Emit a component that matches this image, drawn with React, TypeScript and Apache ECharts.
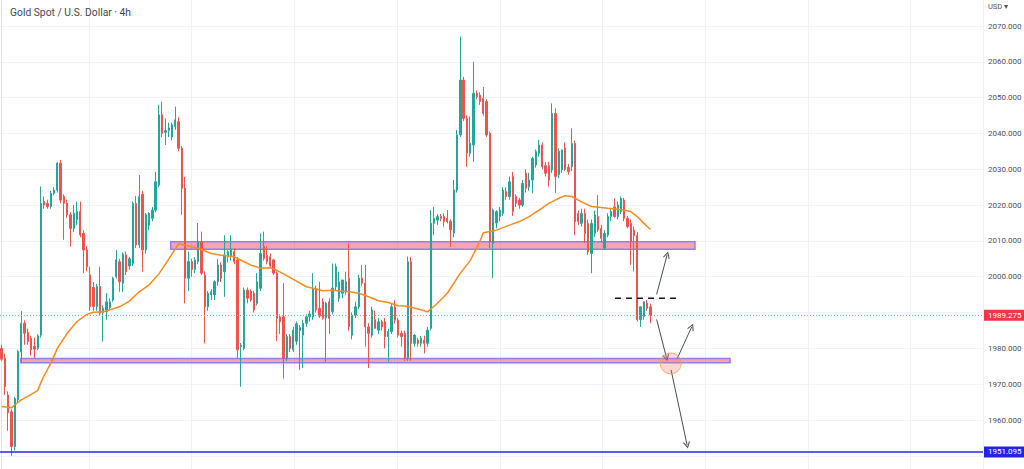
import React, { useEffect, useRef } from "react";
import * as echarts from "echarts";

// [open, high, low, close] per 4h candle
const candles: [number, number, number, number][] = [
  [1980, 1981, 1976.5, 1977], [1977.3, 1978.5, 1967, 1969.3], [1967, 1968, 1957, 1962], [1962.3, 1963, 1950, 1952.6],
  [1952.6, 1966.5, 1951.5, 1966], [1965.6, 1979.6, 1965, 1979.1], [1979, 1990.4, 1976, 1987], [1987, 1987.8, 1981, 1984.2],
  [1984.5, 1985.5, 1981, 1981.9], [1982.8, 1983.5, 1978, 1979.6], [1980.5, 1983, 1977.3, 1979.8], [1980, 1984, 1979.5, 1983.5],
  [1983.7, 2025.2, 1983, 2020.5], [2021, 2022.4, 2019, 2020], [2020.5, 2021.5, 2019, 2019.6], [2019.6, 2024, 2019, 2023.3],
  [2023.3, 2025, 2022.8, 2024.2], [2024.2, 2032, 2023.5, 2031.7], [2031.7, 2032.6, 2020.5, 2021.4], [2022.4, 2023, 2010.3, 2020.5],
  [2020.5, 2021.5, 2016.5, 2017.3], [2017.3, 2018, 2008.4, 2013.5], [2013.5, 2020, 2012.5, 2017.7], [2016, 2021, 2014.5, 2018.2],
  [2018.2, 2021, 2011, 2011.7], [2012.1, 2013, 2001, 2007.5], [2007.5, 2008.5, 2001.5, 2002.8], [2000.5, 2002.8, 1990.5, 1991.7],
  [1997, 1998.5, 1990.5, 1991.7], [1991.7, 1998, 1990.5, 1997.3], [1997.3, 2002.8, 1989, 1989.8], [1990, 1992, 1981.9, 1991.2],
  [1990.3, 1995.4, 1988, 1993], [1991.4, 1994, 1990.5, 1993], [1993.5, 2000, 1993, 1999.6], [2000, 2007.5, 1999.5, 2004.7],
  [2004.2, 2005, 1995.8, 1998.6], [1998.2, 2006.8, 1995.8, 2006.3], [2006.1, 2007, 2000.5, 2001.4], [2003, 2005.5, 2002, 2005],
  [2003.7, 2021, 2003, 2020.5], [2020.5, 2022.5, 2008, 2008.9], [2008.9, 2028.4, 2008, 2022.4], [2023, 2024, 2001.4, 2007.5],
  [2007.5, 2017.8, 2006.5, 2017.3], [2014.4, 2018, 2013, 2017.7], [2016.3, 2019.5, 2015.5, 2018.6], [2018.6, 2029.3, 2018, 2026.5],
  [2025.6, 2048, 2025, 2045.2], [2045.2, 2048.9, 2039, 2040], [2040.3, 2044.2, 2036.8, 2040.8], [2040.8, 2043, 2039, 2041.5],
  [2039, 2043, 2038, 2042.4], [2041.9, 2047.5, 2041, 2043.8], [2043.3, 2044.5, 2035, 2035.9], [2035.9, 2036.5, 2017.3, 2024.7],
  [2024.7, 2027.9, 1992.6, 1999.6], [1999.6, 2007, 1996, 2004.2], [2004.2, 2005, 2000, 2002], [2002, 2005.5, 2001, 2004.7],
  [2004.2, 2015, 2003.5, 2009.8], [2009.8, 2012.6, 2000.5, 2001], [2000.5, 2001.5, 1981.4, 1991.6], [1991.6, 1996, 1990.5, 1995.4],
  [1995, 1996.5, 1993.5, 1995.8], [1994.9, 1999, 1993.5, 1998.6], [1998.6, 2005, 1997.5, 2003.3], [2003.3, 2004, 1998.5, 1999.6],
  [2001.4, 2011.6, 1994.4, 2006.1], [2005.6, 2007.5, 2004, 2007], [2005.6, 2011.6, 2004.5, 2007.5], [2007, 2008, 2003.5, 2004.2],
  [2004.7, 2005.5, 1977.2, 1979.6], [1980.5, 1981.5, 1969.3, 1980.9], [1980, 1997, 1979.5, 1996.3], [1996.3, 1997, 1992.6, 1994],
  [1996, 1996.5, 1993, 1993.5], [1995.4, 1996, 1990, 1990.7], [1992.6, 2001, 1992, 1998.6], [1996.8, 2012.1, 1996, 2006.5],
  [2008.4, 2012.6, 2004.5, 2005.1], [2006, 2008.5, 2003.5, 2004.2], [2005.6, 2006.5, 2002.5, 2003], [2004.7, 2005, 2000.5, 2001],
  [2001, 2001.5, 1982, 1988.4], [1988.8, 1989.5, 1984, 1987.5], [1988.8, 1998.2, 1971.6, 1977.2], [1977.2, 1984, 1976.5, 1983.3],
  [1983.3, 1984, 1979, 1980], [1979.6, 1986, 1979, 1985.1], [1982, 1987.5, 1981, 1986.9], [1985, 1986.5, 1974, 1985.8],
  [1983.7, 1988, 1974.5, 1987], [1987, 1989.5, 1986, 1988.8], [1988.8, 1990.5, 1987.5, 1989.6], [1988.8, 2001, 1988, 1996.8],
  [1996.8, 1997.5, 1990, 1990.7], [1991.2, 1998.6, 1988.5, 1989], [1993, 1994, 1988, 1988.4], [1988.5, 1993, 1976.3, 1992.6],
  [1993, 1994, 1984, 1988.4], [1990.3, 2003.7, 1989.5, 1996.8], [1997.2, 2003.7, 1996, 2002.8], [1994, 2001.4, 1993, 1998.6],
  [1995.4, 1999, 1994, 1999.1], [1995.8, 2001.4, 1995, 1998.6], [1999.6, 2009.3, 1985, 1986], [1983.7, 1990, 1982.5, 1989.3],
  [1989.3, 1993, 1988.5, 1991.6], [1991.6, 2000.5, 1991, 1999.6], [1999.6, 2003.3, 1997.5, 1998.2], [1998.2, 2003.3, 1980.5, 1986],
  [1986, 1987, 1974.5, 1984.2], [1983.7, 1991.6, 1983, 1990.7], [1988, 1990.5, 1985.5, 1985.6], [1985.1, 1988.5, 1984, 1987.4],
  [1987.4, 1988, 1985, 1986], [1987.4, 1988.5, 1980, 1983.3], [1983.3, 1985.5, 1976.3, 1984.7], [1984.7, 1992.6, 1984, 1991.6],
  [1991.6, 1993.5, 1987, 1987.9], [1987.9, 1988.5, 1983, 1983.7], [1984.2, 1985, 1980.5, 1983.3], [1984.2, 1985, 1976.5, 1977.2],
  [1977.2, 2005.6, 1976.5, 2004.2], [2004.2, 2005.6, 1976.5, 1981.4], [1981.4, 1984, 1980.5, 1983.7], [1982.3, 1983, 1980.5, 1981.4],
  [1981.4, 1983.5, 1980.5, 1982.8], [1982.3, 1983.5, 1978.6, 1981.4], [1981.4, 1986, 1980.5, 1985.1], [1985.6, 2018.6, 1985, 2014.9],
  [2014.9, 2019.5, 2011.6, 2016.3], [2015.8, 2017.5, 2014.5, 2016.8], [2016.8, 2017.5, 2015.5, 2016.3], [2016.8, 2017.7, 2014, 2015.4],
  [2016.3, 2018.6, 2014.9, 2015.4], [2015.4, 2016, 2008.4, 2013.1], [2012.2, 2027, 2011, 2024.2], [2024.2, 2041, 2023.5, 2039.6],
  [2039.6, 2067, 2039, 2054.9], [2054.9, 2055.8, 2043.5, 2044.2], [2044.2, 2045, 2030.7, 2034.5], [2034.5, 2044.7, 2033.5, 2037.3],
  [2036.8, 2060, 2032.1, 2051.2], [2051.2, 2052, 2049.5, 2050.3], [2050.7, 2051.5, 2048, 2048.9], [2049.8, 2053, 2045, 2045.6],
  [2048.9, 2049.5, 2039, 2039.6], [2040, 2040.5, 2008, 2009.8], [2009.3, 2019, 1999.6, 2018.6], [2015, 2018.6, 2013.5, 2018.2],
  [2016.8, 2019.5, 2015.5, 2018.6], [2017.7, 2025, 2017, 2024.2], [2023.8, 2025, 2021.5, 2022.4], [2022.4, 2028, 2021.5, 2026.5],
  [2028, 2029.3, 2017, 2018.2], [2022.4, 2023, 2019.5, 2020.5], [2021.4, 2022, 2019, 2020], [2020, 2027, 2019.5, 2026],
  [2028.9, 2030, 2023.5, 2024.7], [2025.1, 2029, 2024, 2027], [2027, 2033.5, 2023.3, 2033], [2031.2, 2035.5, 2030.5, 2034.9],
  [2034.5, 2038.2, 2033.5, 2036.8], [2036.8, 2037.5, 2030, 2030.7], [2031, 2032, 2028, 2028.9], [2031, 2032, 2025.2, 2027],
  [2029.8, 2048.4, 2029, 2045.6], [2045.6, 2047, 2023.3, 2028], [2028.5, 2035.8, 2027.5, 2035], [2029.8, 2035.5, 2029, 2035.4],
  [2036, 2037.5, 2029.5, 2030], [2030.5, 2031.5, 2028.5, 2029.3], [2030.7, 2041.4, 2029.5, 2037.2], [2037.2, 2038, 2011.6, 2015.4],
  [2017.7, 2018.5, 2014.5, 2015.4], [2014.9, 2019, 2014, 2017.7], [2017.7, 2019, 2009.3, 2012.1], [2014.9, 2016, 2006.1, 2007],
  [2006.5, 2016, 2001, 2014.9], [2012.1, 2018.5, 2011, 2017.2], [2016.8, 2022.8, 2012.5, 2013.1], [2013.5, 2014.5, 2009.5, 2010.7],
  [2008, 2013, 2007.5, 2012.1], [2011.6, 2017.7, 2011, 2016.8], [2016.8, 2019, 2015.5, 2018.2], [2019.5, 2021.9, 2016.5, 2016.8],
  [2016.8, 2021, 2016, 2020], [2018.2, 2022.4, 2017.5, 2021.9], [2021.4, 2022, 2015.5, 2016.3], [2016.3, 2017, 2013.5, 2014],
  [2014.9, 2016, 2003.3, 2009.8], [2013, 2014, 2001.5, 2011.5], [2011.5, 2012.5, 1987.5, 1988], [1988, 1991.7, 1986, 1991.6],
  [1988.9, 1993, 1988, 1993], [1992.6, 1993.5, 1990.5, 1991.2], [1991.6, 1992.5, 1987, 1989.3],
];

// moving average: [candle index, price]
const maPoints: [number, number][] = [
  [0, 1963.8], [3, 1963.4], [4, 1964.2], [6, 1965.6], [8, 1966.6], [11, 1968.2], [12, 1970.5], [13, 1972.5], [15, 1975.8],
  [17, 1980], [20, 1984.2], [23, 1987.5], [26, 1989.5], [28, 1990.1], [31, 1990.2], [36, 1991.6], [39, 1993.2],
  [42, 1995.8], [45, 1997.7], [48, 2000.8], [51, 2004.9], [53, 2007.8], [54, 2009.2], [56, 2008.8], [58, 2008.4],
  [61, 2007.6], [64, 2006.5], [67, 2006], [71, 2005.6], [73, 2004.6], [76, 2003.3], [79, 2002.4], [82, 2002.5],
  [84, 2001.8], [87, 2000.3], [90, 1998.8], [93, 1997.2], [96, 1996.6], [98, 1996.1], [101, 1996.2], [103, 1996],
  [106, 1995.8], [109, 1995.4], [112, 1994.4], [115, 1993.3], [118, 1992.8], [121, 1991.9], [123, 1991.8],
  [125, 1991.5], [128, 1990.8], [130, 1990.2], [133, 1992.6], [136, 1995.4], [140, 2001], [143, 2004.5],
  [146, 2010], [147, 2012.3], [151, 2013], [155, 2014.4], [158, 2015.4], [161, 2016.8], [164, 2018.6],
  [167, 2020.5], [170, 2021.9], [172, 2022.6], [174, 2022.4], [177, 2020.9], [180, 2019.6], [185, 2019.1],
  [189, 2018.8], [192, 2018.2], [194, 2016.8], [196, 2014.9], [198, 2013.2],
];

// support / resistance zones: [from index, to index, low, high]
const zones: [number, number, number, number][] = [
  [51.6, 211.6, 2007.7, 2009.8],
  [5.8, 222.3, 1976.0, 1977.2],
];

// dashed level: [from index, to index, price]
const dashedLevel: [number, number, number] = [187.2, 207.0, 1994.0];

// arrows: [x1, y1, x2, y2] (index, price)
const arrows: [number, number, number, number][] = [
  [199.9, 1995.1, 203.1, 2006.1],
  [199.9, 1988.1, 202.9, 1977.4],
  [206.2, 1977.2, 210.6, 1986.0],
  [204.3, 1974.0, 209.2, 1953.0],
];

const circlePoint: [number, number] = [204.2, 1975.8];
const lastPrice = 1989.275;
const lowLine = 1951.095;

const SLOTS = 300;
const FONT = "Roboto";
const CHEVRON = "path://M5,0L10,9L8.7,9.7L5,2.8L1.3,9.7L0,9Z";

export default function App() {
  const ref = useRef<HTMLDivElement>(null);
  useEffect(() => {
    const chart = echarts.init(ref.current!, undefined, { renderer: "svg" });
    const cats = Array.from({ length: SLOTS }, (_, i) => String(i));
    const ohlc = candles.map(([o, h, l, c]) => [o, c, l, h]);
    const priceTags = [lastPrice, lowLine];
    chart.setOption({
      animation: false,
      backgroundColor: "#ffffff",
      textStyle: { fontFamily: FONT },
      title: {
        text: "Gold Spot / U.S. Dollar · 4h",
        left: 5,
        top: 2,
        textStyle: { fontSize: 10.3, fontWeight: "normal", color: "#434651", fontFamily: FONT },
      },
      graphic: [
        { type: "text", left: 988, top: 2, style: { text: "USD ▾", fontSize: 7.5, fill: "#50535e", fontFamily: FONT } },
      ],
      grid: [
        { left: 0, right: 41, top: -9.82, bottom: -22.66, outerBoundsMode: "none", containLabel: false },
        { left: -13.7, right: 41, top: 0, bottom: 0, outerBoundsMode: "none", containLabel: false },
      ],
      xAxis: [
        { type: "category", gridIndex: 0, data: cats, boundaryGap: true, show: false },
        { type: "value", gridIndex: 0, min: -0.5, max: SLOTS - 0.5, show: false },
        {
          type: "value", gridIndex: 1, min: 0, max: 9.705, interval: 1,
          axisLine: { show: false }, axisTick: { show: false }, axisLabel: { show: false },
          splitLine: { show: true, lineStyle: { color: "#eef1f7", width: 1 } },
        },
      ],
      yAxis: [
        {
          type: "value", gridIndex: 0, position: "right", min: 1940, max: 2080, interval: 10,
          axisLine: { show: true, lineStyle: { color: "#e0e3eb" } },
          axisTick: { show: false },
          splitLine: { show: true, lineStyle: { color: "#f0f3fa", width: 1 } },
          axisLabel: {
            margin: 5, fontSize: 8, color: "#4c4f59", fontFamily: FONT,
            showMinLabel: false, showMaxLabel: false,
            formatter: (v: number) => (priceTags.some((p) => Math.abs(p - v) < 3) ? "" : v.toFixed(3)),
          },
        },
        { type: "value", gridIndex: 1, min: 0, max: 1, show: false },
      ],
      series: [
        {
          type: "candlestick",
          xAxisIndex: 0, yAxisIndex: 0,
          data: ohlc,
          barWidth: 1.8,
          itemStyle: {
            color: "#26a69a", color0: "#ef5350",
            borderColor: "#26a69a", borderColor0: "#ef5350", borderWidth: 1,
          },
          markLine: {
            silent: true,
            symbol: ["none", "none"],
            data: [
              {
                yAxis: lastPrice,
                lineStyle: { color: "#f58a94", type: [1, 2], width: 1 },
                label: {
                  show: true, position: "end", distance: 1, formatter: lastPrice.toFixed(3),
                  backgroundColor: "#f23645", color: "#ffffff", fontSize: 8, lineHeight: 9,
                  padding: [1, 4, 1, 4], fontFamily: FONT,
                },
              },
              {
                yAxis: lowLine,
                lineStyle: { color: "#2424e8", type: "solid", width: 1.5 },
                label: {
                  show: true, position: "end", distance: 1, formatter: lowLine.toFixed(3),
                  backgroundColor: "#2424e8", color: "#ffffff", fontSize: 8, lineHeight: 9,
                  padding: [1, 4, 1, 4], fontFamily: FONT,
                },
              },
            ],
          },
        },
        {
          type: "line",
          xAxisIndex: 1, yAxisIndex: 0,
          z: 3,
          data: [[dashedLevel[0], dashedLevel[2]], [dashedLevel[1], dashedLevel[2]]],
          symbol: "none",
          lineStyle: { color: "#131722", width: 1.5, type: [6, 5] },
          markArea: {
            silent: true,
            itemStyle: { color: "rgba(242, 54, 69, 0.45)", borderColor: "#8f80f2", borderWidth: 1.5 },
            data: zones.map(([a, b, lo, hi]) => [{ coord: [a, hi] }, { coord: [b, lo] }]),
          },
          markLine: {
            silent: true,
            symbol: ["none", CHEVRON],
            symbolSize: [7, 7],
            lineStyle: { color: "#4a4d57", width: 1, type: "solid" },
            label: { show: false },
            data: arrows.map(([x1, y1, x2, y2]) => [{ coord: [x1, y1] }, { coord: [x2, y2] }]),
          },
        },
        {
          type: "line",
          xAxisIndex: 1, yAxisIndex: 0,
          z: 4,
          data: maPoints,
          symbol: "none",
          lineStyle: { color: "#f68b1f", width: 1.5 },
        },
        {
          type: "scatter",
          xAxisIndex: 1, yAxisIndex: 0,
          z: 5,
          data: [circlePoint],
          symbolSize: 21,
          itemStyle: { color: "rgba(245, 120, 110, 0.35)", borderColor: "#f7a13c", borderWidth: 1 },
        },
      ],
    });
    return () => chart.dispose();
  }, []);
  return (
    <div
      ref={ref}
      style={{ position: "absolute", left: 0, top: 0, width: 1024, height: 469, background: "#ffffff" }}
    />
  );
}
